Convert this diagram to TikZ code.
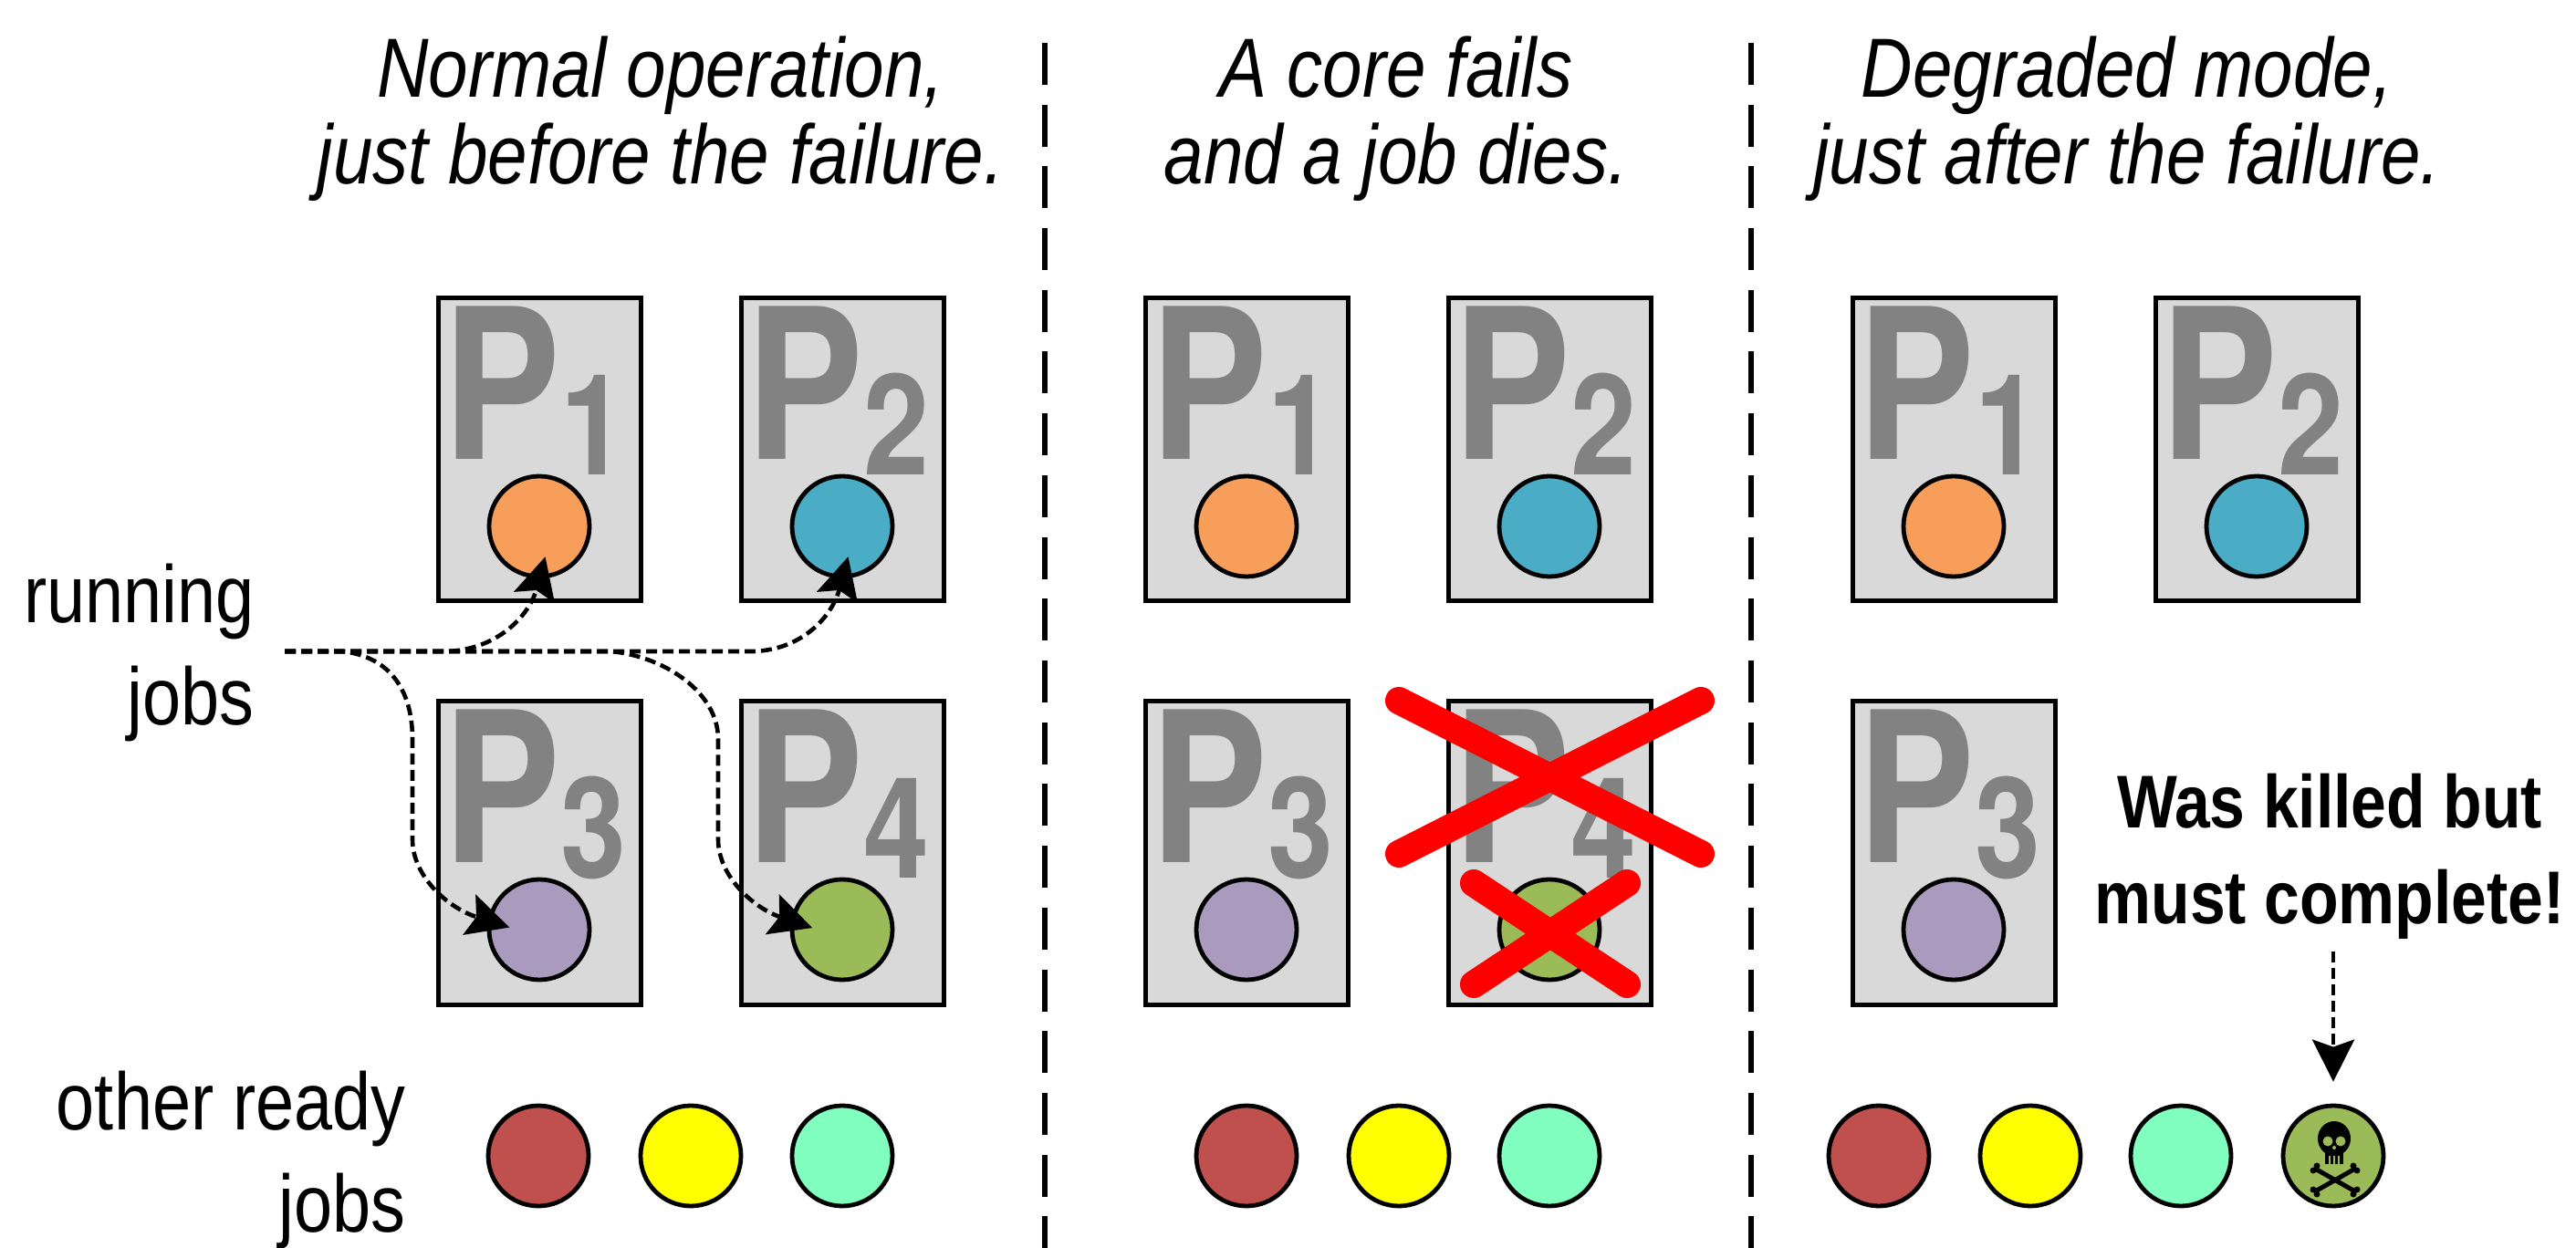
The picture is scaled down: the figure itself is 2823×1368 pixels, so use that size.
\documentclass[tikz,border=0pt]{standalone}
\usepackage{fontspec}
\setmainfont{Liberation Sans}
\newfontfamily\narrowfont[FakeStretch=0.85,ItalicFont={Liberation Sans Italic},BoldFont={Liberation Sans Bold}]{Liberation Sans}
\newfontfamily\procfont[FakeStretch=0.84,BoldFont={TeX Gyre Heros Bold}]{TeX Gyre Heros}
\usetikzlibrary{arrows.meta,calc}
\definecolor{boxgray}{HTML}{D9D9D9}
\definecolor{pgray}{HTML}{828282}
\definecolor{jorange}{HTML}{F79F5A}
\definecolor{jblue}{HTML}{4BACC6}
\definecolor{jpurple}{HTML}{AA9ABE}
\definecolor{jgreen}{HTML}{9BBB59}
\definecolor{jred}{HTML}{C0504D}
\definecolor{jyellow}{HTML}{FFFF00}
\definecolor{jmint}{HTML}{80FFBF}
\tikzset{
  procbox/.style={draw=black,fill=boxgray,line width=2.5pt,rectangle,minimum width=111pt,minimum height=166pt,inner sep=0pt,anchor=center},
  plabel/.style={text=pgray,inner sep=0pt,outer sep=0pt,anchor=base west,font=\procfont\bfseries\fontsize{115}{115}\selectfont},
  job/.style={draw=black,line width=2.4pt,circle,minimum size=55pt,inner sep=0pt},
  heading/.style={align=center,inner sep=0pt,anchor=base,font=\narrowfont\itshape\fontsize{46}{47.5}\selectfont},
  sidetext/.style={align=right,inner sep=0pt,anchor=base east,font=\narrowfont\fontsize{44.5}{56}\selectfont},
  callout/.style={align=center,inner sep=0pt,anchor=base,font=\narrowfont\bfseries\fontsize{41}{52.5}\selectfont},
  separator/.style={draw=black,line width=2.6pt,dash pattern=on 23pt off 10.85pt},
  pointer/.style={draw=black,line width=2.3pt,dash pattern=on 6pt off 3pt,-{Stealth[length=23pt,width=23pt,inset=4pt]}},
  cross/.style={draw=red,line width=15pt,line cap=round},
  bone/.style={draw=black,line width=2.5pt},
}
\newcommand{\procnode}[5]{% name, cx, cy, digit, colour
  \node[procbox] (#1) at (#2,#3) {};
  \node[plabel] (#1l) at ($(#1.north west)+(8,179)$) {P\lower8.5pt\hbox{\fontsize{77}{77}\selectfont #4}};
  \node[job,fill=#5] (#1c) at (#2,#3+84) {};
}
\begin{document}
\begin{tikzpicture}[x=0.5pt,y=-0.5pt]
\useasboundingbox (0,0) rectangle (2823,1368);
% separators
\coordinate (s1t) at (1145,47); \coordinate (s1b) at (1145,1368);
\coordinate (s2t) at (1919,47); \coordinate (s2b) at (1919,1368);
\path[separator] (s1t) -- (s1b);
\path[separator] (s2t) -- (s2b);
% headings
\node[heading] (h1) at (724,202) {Normal operation,\\just before the failure.};
\node[heading] (h2) at (1530,202) {A core fails\\and a job dies.};
\node[heading] (h3) at (2331,202) {Degraded mode,\\just after the failure.};
% side labels
\node[sidetext] (run) at (279,795) {running\\jobs};
\node[sidetext] (oth) at (445,1350) {other ready\\jobs};
% panel 1
\procnode{a1}{591}{493}{1}{jorange}
\procnode{a2}{923}{493}{2}{jblue}
\procnode{a3}{591}{935}{3}{jpurple}
\procnode{a4}{923}{935}{4}{jgreen}
\node[job,fill=jred] (ar) at (590,1267) {};
\node[job,fill=jyellow] (ay) at (757,1267) {};
\node[job,fill=jmint] (am) at (923,1267) {};
% panel 2
\procnode{b1}{1366}{493}{1}{jorange}
\procnode{b2}{1698}{493}{2}{jblue}
\procnode{b3}{1366}{935}{3}{jpurple}
\procnode{b4}{1698}{935}{4}{jgreen}
\node[job,fill=jred] (br) at (1366,1267) {};
\node[job,fill=jyellow] (by) at (1533,1267) {};
\node[job,fill=jmint] (bm) at (1698,1267) {};
% panel 3
\procnode{c1}{2141}{493}{1}{jorange}
\procnode{c2}{2473}{493}{2}{jblue}
\procnode{c3}{2141}{935}{3}{jpurple}
\node[job,fill=jred] (cr) at (2059,1267) {};
\node[job,fill=jyellow] (cy) at (2225,1267) {};
\node[job,fill=jmint] (cm) at (2390,1267) {};
\node[job,fill=jgreen] (cs) at (2557,1267) {};
% skull and crossbones
\fill[black] (2558,1248) ellipse [x radius=18,y radius=19];
\fill[black] (2548,1256) rectangle (2568,1276);
\fill[jgreen] (2551,1251) circle [radius=5.5] (2565,1251) circle [radius=5.5];
\fill[jgreen] (2558,1258) circle [radius=2];
\draw[jgreen,line width=0.7pt] (2553,1267) -- (2553,1276) (2558,1267) -- (2558,1276) (2563,1267) -- (2563,1276);
\draw[bone] (2537,1281) -- (2581,1306) (2581,1281) -- (2537,1306);
\fill[black] (2535,1283) circle [radius=3.5] (2539,1278) circle [radius=3.5]
             (2583,1283) circle [radius=3.5] (2579,1278) circle [radius=3.5]
             (2535,1304) circle [radius=3.5] (2539,1309) circle [radius=3.5]
             (2583,1304) circle [radius=3.5] (2579,1309) circle [radius=3.5];
% crosses
\coordinate (x1a) at (1533,768); \coordinate (x1b) at (1864,936);
\coordinate (x1c) at (1864,768); \coordinate (x1d) at (1533,936);
\coordinate (x2a) at (1615,968); \coordinate (x2b) at (1783,1079);
\coordinate (x2c) at (1783,968); \coordinate (x2d) at (1615,1079);
\path[cross] (x1a) -- (x1b) (x1c) -- (x1d) (x2a) -- (x2b) (x2c) -- (x2d);
% running-job pointers
\coordinate (rj) at (312,714);
\path[pointer,shorten >=-12.5pt] (rj) -- (490,714) .. controls (545,712) and (580,675) .. (a1c.south);
\path[pointer,shorten >=-12.5pt] (rj) -- (826,714) .. controls (880,712) and (912,675) .. (a2c.south);
\path[pointer,shorten >=-12.5pt] (rj) -- (375,714) .. controls (430,720) and (452,760) .. (452,810) -- (452,920) .. controls (452,960) and (490,995) .. (a3c.170);
\path[pointer,shorten >=-12.5pt] (rj) -- (670,714) .. controls (730,720) and (787,760) .. (787,810) -- (787,920) .. controls (787,960) and (825,995) .. (a4c.170);
% callout
\node[callout] (wk) at (2553,1012) {Was killed but\\must complete!};
\coordinate (wkb) at (2557,1043);
\path[pointer,shorten >=12pt] (wkb) -- (cs.north);
\end{tikzpicture}
\end{document}
